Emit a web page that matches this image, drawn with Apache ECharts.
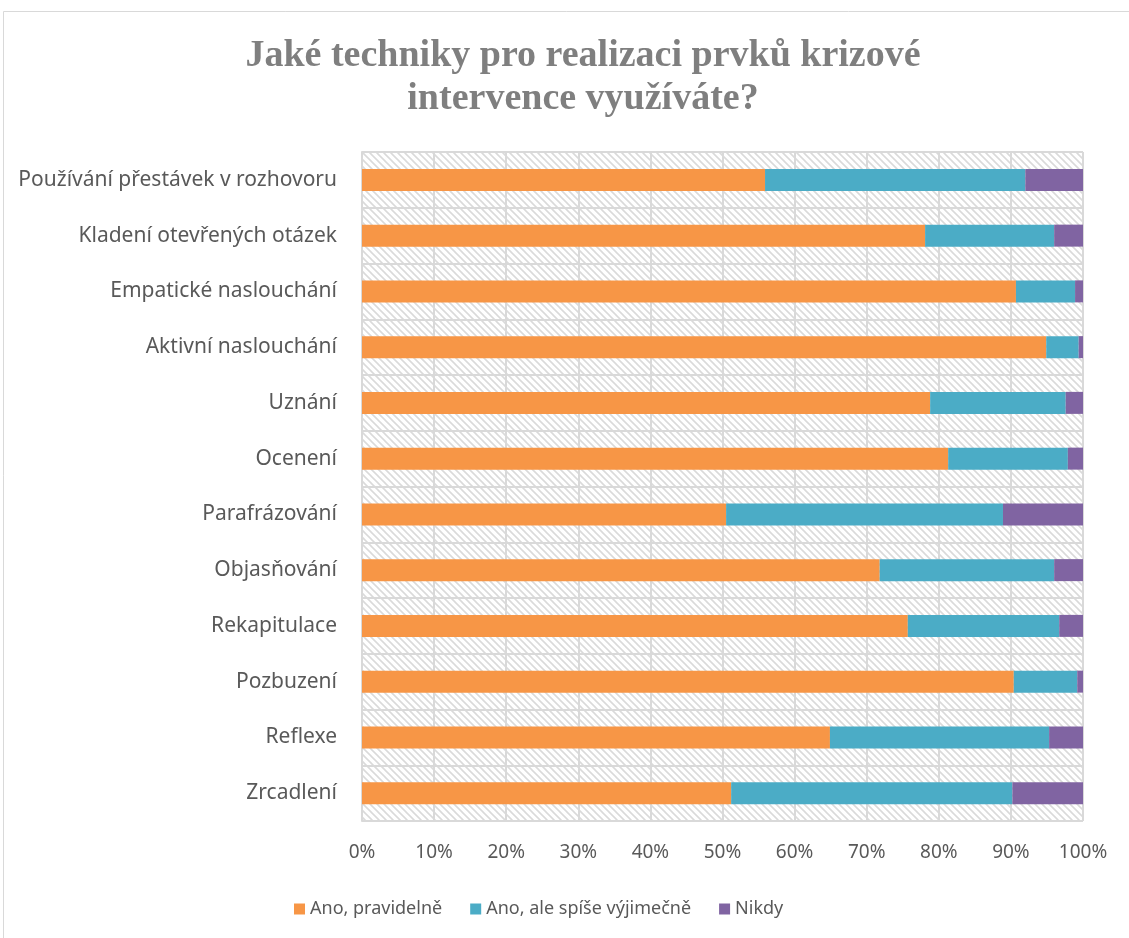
<!DOCTYPE html>
<html>
<head>
<meta charset="utf-8">
<script src="https://cdn.jsdelivr.net/npm/echarts@6/dist/echarts.min.js"></script>
<style>
  html, body { margin: 0; padding: 0; background: #fff; }
  #chart { width: 1129px; height: 938px; }
</style>
</head>
<body>
<div id="chart"></div>
<script>
// kategorie shora dolů
var categories = [
  "Používání přestávek v rozhovoru",
  "Kladení otevřených otázek",
  "Empatické naslouchání",
  "Aktivní naslouchání",
  "Uznání",
  "Ocenení",
  "Parafrázování",
  "Objasňování",
  "Rekapitulace",
  "Pozbuzení",
  "Reflexe",
  "Zrcadlení"
];
// podíly v %
var pravidelne = [55.9, 78.1, 90.7, 94.9, 78.8, 81.3, 50.5, 71.8, 75.7, 90.4, 64.9, 51.2];
var vyjimecne = [36.1, 17.9, 8.2, 4.5, 18.8, 16.6, 38.4, 24.2, 21.0, 8.8, 30.4, 39.0];
var nikdy = [8.0, 4.0, 1.1, 0.6, 2.4, 2.1, 11.1, 4.0, 3.3, 0.8, 4.7, 9.8];
var seriesNames = ["Ano, pravidelně", "Ano, ale spíše výjimečně", "Nikdy"];
var xTicks = [0, 10, 20, 30, 40, 50, 60, 70, 80, 90, 100];

// šrafované pozadí plochy grafu
var tile = document.createElement("canvas");
tile.width = 7;
tile.height = 7;
var ctx = tile.getContext("2d");
ctx.fillStyle = "#ffffff";
ctx.fillRect(0, 0, 7, 7);
ctx.strokeStyle = "#dadada";
ctx.lineWidth = 1.6;
ctx.beginPath();
ctx.moveTo(-1, -1); ctx.lineTo(8, 8);
ctx.moveTo(-1, 6); ctx.lineTo(1, 8);
ctx.moveTo(6, -1); ctx.lineTo(8, 1);
ctx.stroke();

var chart = echarts.init(document.getElementById("chart"));
var font = "'Noto Sans', sans-serif";

chart.setOption({
  animation: false,
  backgroundColor: "#ffffff",
  color: ["#F79646", "#4BACC6", "#8064A2"],
  title: {
    text: "Jaké techniky pro realizaci prvků krizové\nintervence využíváte?",
    left: 578,
    top: 30,
    textAlign: "center",
    textStyle: {
      fontFamily: "'Liberation Serif', serif",
      fontWeight: "bold",
      fontSize: 38,
      lineHeight: 43,
      color: "#7f7f7f"
    }
  },
  graphic: [{
    type: "rect",
    shape: { x: 3.5, y: 11.5, width: 1140, height: 940 },
    style: { fill: null, stroke: "#d9d9d9", lineWidth: 1 },
    silent: true
  }],
  legend: {
    left: 289,
    top: 895,
    icon: "rect",
    itemWidth: 11,
    itemHeight: 11,
    itemGap: 28,
    textStyle: { fontFamily: font, fontSize: 18, color: "#595959" },
    data: seriesNames
  },
  grid: {
    left: 362,
    right: 46,
    top: 152,
    bottom: 117,
    show: true,
    borderWidth: 0,
    backgroundColor: { image: tile, repeat: "repeat" }
  },
  xAxis: {
    type: "value",
    min: 0,
    max: 100,
    interval: 10,
    axisLine: { show: false },
    axisTick: { show: false },
    axisLabel: {
      margin: 22,
      fontFamily: font,
      fontSize: 19,
      color: "#595959",
      formatter: function (v) { return xTicks.indexOf(v) >= 0 ? v + "%" : ""; }
    },
    splitLine: { show: true, lineStyle: { color: "#d9d9d9", width: 2 } }
  },
  yAxis: {
    type: "category",
    inverse: true,
    data: categories,
    axisLine: { show: true, lineStyle: { color: "#d9d9d9", width: 2 } },
    axisTick: { show: false },
    axisLabel: { margin: 25, fontFamily: font, fontSize: 21, color: "#595959" },
    splitLine: { show: true, lineStyle: { color: "#d9d9d9", width: 2 } }
  },
  series: [
    { name: seriesNames[0], type: "bar", stack: "total", barWidth: 22, data: pravidelne },
    { name: seriesNames[1], type: "bar", stack: "total", barWidth: 22, data: vyjimecne },
    { name: seriesNames[2], type: "bar", stack: "total", barWidth: 22, data: nikdy }
  ]
});
</script>
</body>
</html>
